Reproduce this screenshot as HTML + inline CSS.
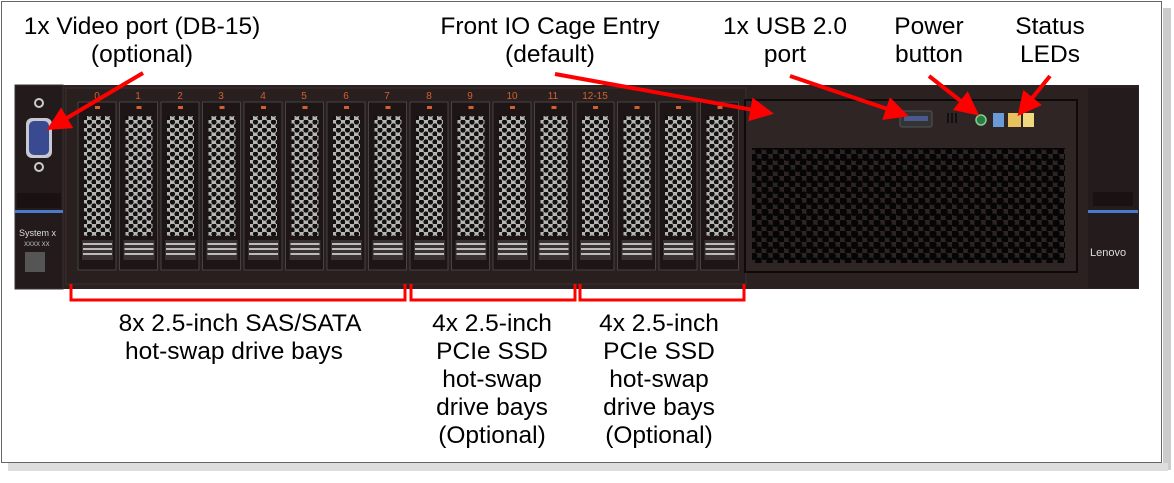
<!DOCTYPE html>
<html><head><meta charset="utf-8"><style>
body{margin:0;background:#fff;}
svg{display:block;font-family:"Liberation Sans",Arial,sans-serif;}
</style></head><body>
<svg width="1174" height="483" viewBox="0 0 1174 483" xmlns="http://www.w3.org/2000/svg">
<defs>
<pattern id="hex" width="9" height="8" patternUnits="userSpaceOnUse">
<rect width="9" height="8" fill="#b8b4b4"/>
<circle cx="2.5" cy="2" r="2.6" fill="#111"/><circle cx="7" cy="6" r="2.6" fill="#111"/>
</pattern>
<pattern id="vent" width="11.2" height="11" patternUnits="userSpaceOnUse">
<rect width="11.2" height="11" fill="#2e2424"/>
<circle cx="3" cy="3" r="4" fill="#050505"/><circle cx="8.6" cy="8.5" r="4" fill="#050505"/>
</pattern>
<marker id="ah" markerWidth="6" markerHeight="6" refX="5" refY="3" orient="auto" markerUnits="strokeWidth">
<path d="M0,0 L6,3 L0,6 Z" fill="#f00"/></marker>
<g id="bay">
<rect x="0" y="102" width="38" height="168" fill="#1e1616" stroke="#444"/>
<rect x="6" y="116" width="27" height="120" fill="url(#hex)"/>
<rect x="4" y="240" width="31" height="20" fill="#3a3232"/>
<rect x="5" y="243" width="29" height="2" fill="#bbb"/><rect x="5" y="248" width="29" height="2" fill="#bbb"/><rect x="5" y="253" width="29" height="2" fill="#bbb"/>
<rect x="17" y="106" width="5" height="3" fill="#d06030"/>
</g>
</defs>
<rect x="1163" y="8" width="8" height="462" fill="#ccc"/>
<rect x="8" y="463" width="1160" height="8" fill="#ddd"/>
<rect x="1.5" y="1.5" width="1160" height="461" fill="#fff" stroke="#666"/>
<rect x="15" y="85" width="1124" height="204" fill="#2b2121"/>
<rect x="15" y="85" width="48" height="204" fill="#231b1b" stroke="#3a3030"/>
<rect x="26" y="118" width="26" height="40" rx="6" fill="#c8c8d0"/>
<rect x="29" y="121" width="20" height="34" rx="5" fill="#3a4a90"/>
<circle cx="39" cy="103" r="4" fill="none" stroke="#ccc" stroke-width="2"/>
<circle cx="39" cy="167" r="4" fill="none" stroke="#ccc" stroke-width="2"/>
<rect x="17" y="193" width="44" height="15" fill="#1a1212"/>
<rect x="15" y="210" width="48" height="3" fill="#4a7ac8"/>
<text x="19" y="236" font-size="9" fill="#ddd">System x</text>
<text x="24" y="246" font-size="6" fill="#ccc">XXXX XX</text>
<rect x="25" y="252" width="20" height="20" fill="#555"/>
<rect x="66" y="88" width="680" height="196" fill="#2a1f1f" stroke="#3a3030"/>
<use href="#bay" x="78"/><use href="#bay" x="119.5"/><use href="#bay" x="161"/><use href="#bay" x="202.5"/>
<use href="#bay" x="244"/><use href="#bay" x="285.5"/><use href="#bay" x="327"/><use href="#bay" x="368.5"/>
<use href="#bay" x="410"/><use href="#bay" x="451.5"/><use href="#bay" x="493"/><use href="#bay" x="534.5"/>
<use href="#bay" x="576"/><use href="#bay" x="617.5"/><use href="#bay" x="659"/><use href="#bay" x="700.5"/>
<g font-size="10" fill="#d06030" text-anchor="middle">
<text x="97" y="99">0</text><text x="138" y="99">1</text><text x="180" y="99">2</text><text x="221" y="99">3</text><text x="263" y="99">4</text><text x="304" y="99">5</text><text x="346" y="99">6</text><text x="387" y="99">7</text><text x="429" y="99">8</text><text x="470" y="99">9</text><text x="512" y="99">10</text><text x="553" y="99">11</text><text x="595" y="99">12-15</text>
</g>
<rect x="745" y="100" width="332" height="172" fill="#2f2525" stroke="#0e0a0a" stroke-width="2"/>
<rect x="752" y="148" width="313" height="115" fill="url(#vent)"/>
<rect x="900" y="111" width="32" height="16" rx="2" fill="#333" stroke="#555"/>
<rect x="904" y="116" width="24" height="5" fill="#4a5a90"/>
<rect x="947" y="113" width="2" height="10" fill="#111"/><rect x="951" y="113" width="2" height="10" fill="#111"/><rect x="955" y="113" width="2" height="10" fill="#111"/>
<circle cx="981" cy="120" r="5" fill="#2a7a4a" stroke="#8c8" stroke-width="1.5"/>
<rect x="993" y="113" width="11" height="14" fill="#6a9ad8"/>
<rect x="1008" y="113" width="13" height="14" fill="#e8c060"/>
<rect x="1023" y="113" width="11" height="14" fill="#f0d880"/>
<rect x="1088" y="88" width="50" height="200" fill="#241c1c"/>
<rect x="1093" y="192" width="40" height="14" fill="#1a1212"/>
<rect x="1088" y="210" width="50" height="3" fill="#4a7ac8"/>
<text x="1090" y="256" font-size="11" fill="#ddd">Lenovo</text>
<g stroke="#f00" stroke-width="3" fill="none">
<path d="M71,284 V300 H405 V284"/>
<path d="M411,284 V300 H575 V284"/>
<path d="M580,284 V300 H744 V284"/>
</g>
<g stroke="#f00" stroke-width="4" fill="none">
<line x1="143" y1="73" x2="50" y2="128" marker-end="url(#ah)"/>
<line x1="555" y1="74" x2="770" y2="113" marker-end="url(#ah)"/>
<line x1="790" y1="76" x2="905" y2="115" marker-end="url(#ah)"/>
<line x1="929" y1="76" x2="976" y2="113" marker-end="url(#ah)"/>
<line x1="1050" y1="76" x2="1020" y2="113" marker-end="url(#ah)"/>
</g>
<g font-size="24.5" fill="#000" text-anchor="middle">
<text x="142" y="34">1x Video port (DB-15)</text><text x="142" y="62">(optional)</text>
<text x="550" y="34">Front IO Cage Entry</text><text x="550" y="62">(default)</text>
<text x="785" y="34">1x USB 2.0</text><text x="785" y="62">port</text>
<text x="929" y="34">Power</text><text x="929" y="62">button</text>
<text x="1050" y="34">Status</text><text x="1050" y="62">LEDs</text>
<text x="240" y="331">8x 2.5-inch SAS/SATA</text><text x="234" y="359">hot-swap drive bays</text>
<text x="492" y="331">4x 2.5-inch</text><text x="492" y="359">PCIe SSD</text><text x="492" y="387">hot-swap</text><text x="492" y="415">drive bays</text><text x="492" y="443">(Optional)</text>
<text x="659" y="331">4x 2.5-inch</text><text x="659" y="359">PCIe SSD</text><text x="659" y="387">hot-swap</text><text x="659" y="415">drive bays</text><text x="659" y="443">(Optional)</text>
</g>
</svg>
</body></html>
